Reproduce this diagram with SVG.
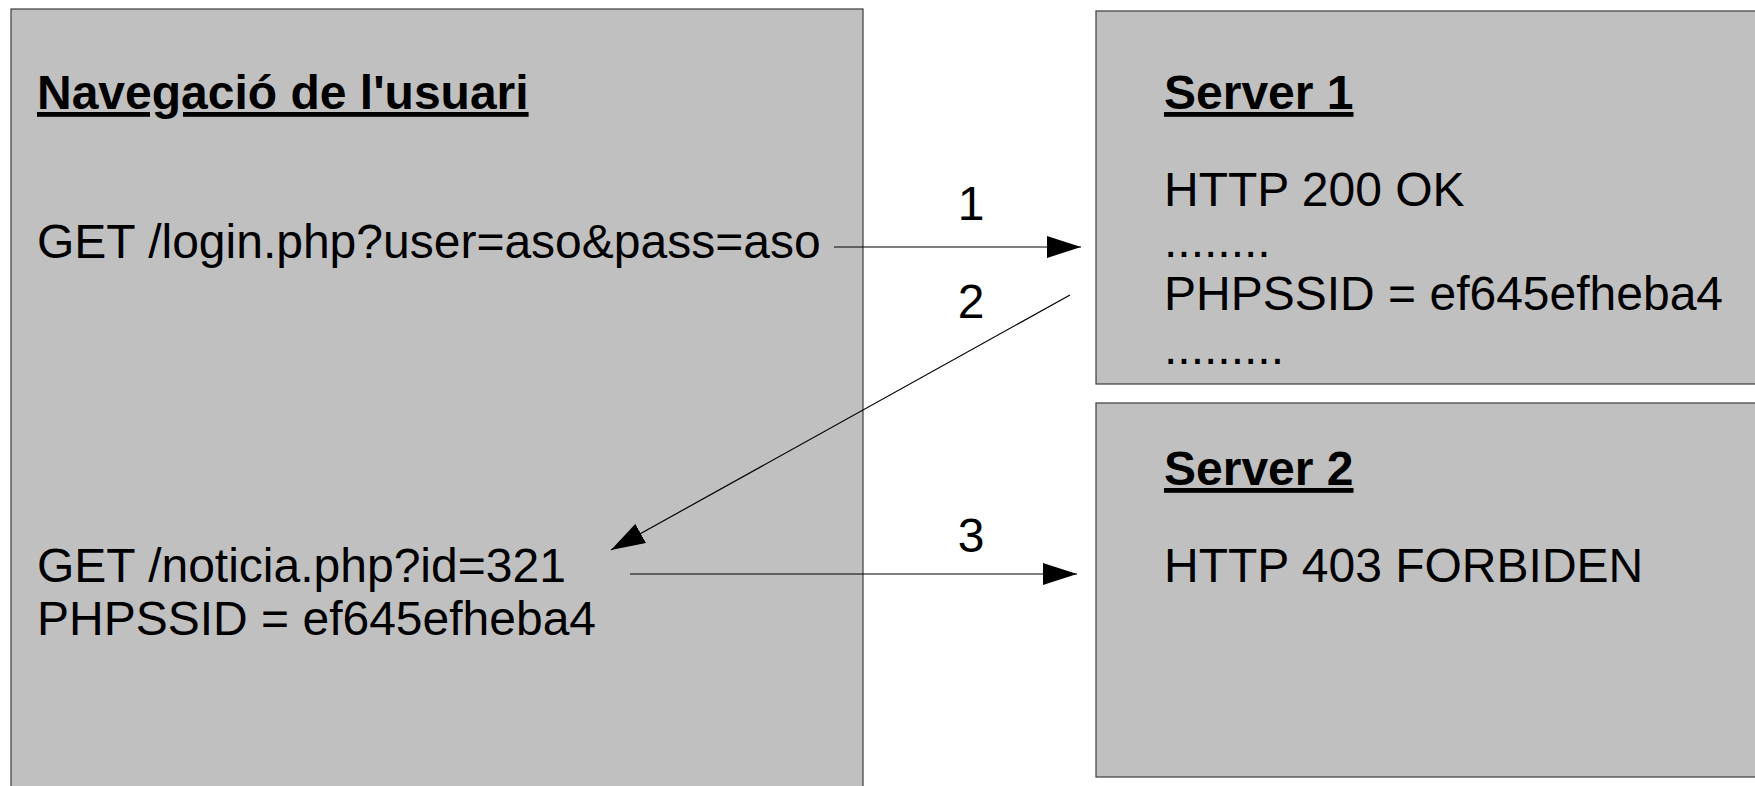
<svg xmlns="http://www.w3.org/2000/svg" width="1755" height="786" viewBox="0 0 1755 786">
<style>
.box{fill:#c0c0c0;stroke:#3c3c3c;stroke-width:1.2}
.t{font-family:"Liberation Sans",Arial,sans-serif;font-size:48px;fill:#000}
.h{font-weight:bold;text-decoration:underline}
.c{stroke:#000;stroke-width:1.2;fill:none}
</style>
<defs>
<marker id="ah" viewBox="0 0 34 22" refX="34" refY="11" markerWidth="34" markerHeight="22" markerUnits="userSpaceOnUse" orient="auto">
<path d="M0,0 L34,11 L0,22 Z" fill="#000"/>
</marker>
</defs>
<rect width="1755" height="786" fill="#fff"/>
<g id="user">
<rect class="box" x="11" y="9" width="852" height="790"/>
<text class="t h" x="37" y="109">Navegació de l'usuari</text>
<text class="t" x="37" y="258">GET /login.php?user=aso&amp;pass=aso</text>
<text class="t" x="37" y="582">GET /noticia.php?id=321</text>
<text class="t" x="37" y="635">PHPSSID = ef645efheba4</text>
</g>
<g id="server1">
<rect class="box" x="1096" y="11" width="670" height="373"/>
<text class="t h" x="1164" y="109">Server 1</text>
<text class="t" x="1164" y="206">HTTP 200 OK</text>
<text class="t" x="1164" y="257">........</text>
<text class="t" x="1164" y="310">PHPSSID = ef645efheba4</text>
<text class="t" x="1164" y="364">.........</text>
</g>
<g id="server2">
<rect class="box" x="1096" y="403" width="670" height="374"/>
<text class="t h" x="1164" y="485">Server 2</text>
<text class="t" x="1164" y="582">HTTP 403 FORBIDEN</text>
</g>
<g id="connectors">
<line class="c" x1="834" y1="247" x2="1081" y2="247" marker-end="url(#ah)"/>
<line class="c" x1="1070" y1="295" x2="611" y2="550" marker-end="url(#ah)"/>
<line class="c" x1="630" y1="574" x2="1077" y2="574" marker-end="url(#ah)"/>
<text class="t" x="971" y="220" text-anchor="middle">1</text>
<text class="t" x="971" y="318" text-anchor="middle">2</text>
<text class="t" x="971" y="552" text-anchor="middle">3</text>
</g>
</svg>
